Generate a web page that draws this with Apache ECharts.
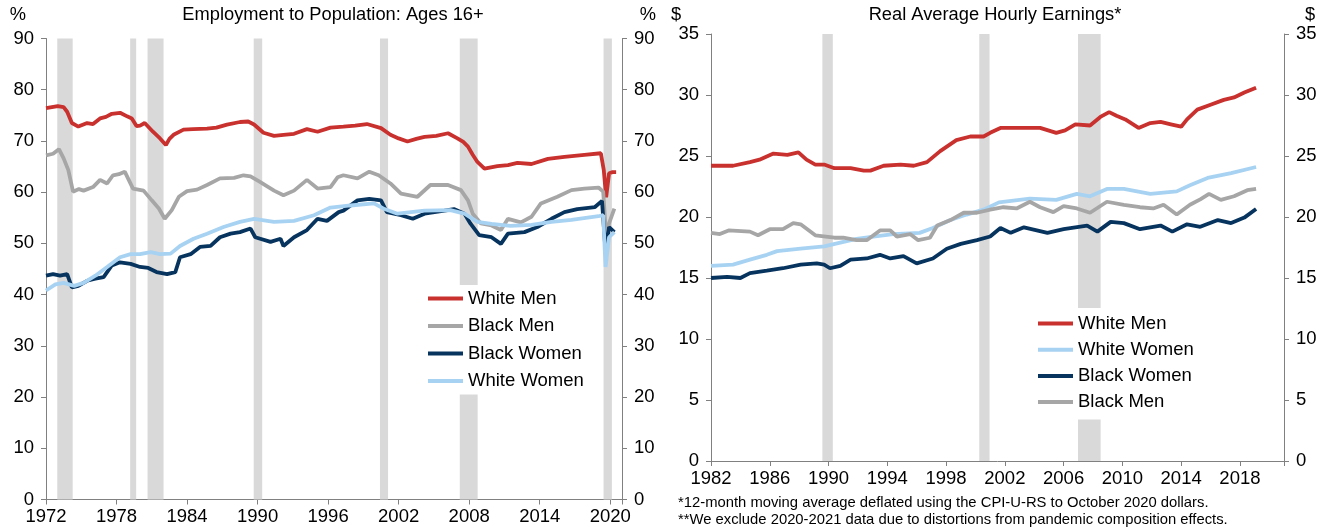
<!DOCTYPE html>
<html>
<head>
<meta charset="UTF-8">
<title>Employment and earnings</title>
<script src="https://cdn.jsdelivr.net/npm/echarts@6/dist/echarts.min.js"></script>
<style>
  html, body { margin: 0; padding: 0; background: #fff; }
  #main { width: 1329px; height: 531px; }
</style>
</head>
<body>
<div id="main"></div>
<script>
// ---- data ----
// left panel: employment to population, %, [year, value]
var empWhiteMen = [[1972.0,76.4],[1972.5,76.6],[1973.0,76.8],[1973.5,76.6],[1973.8,75.7],[1974.2,73.5],[1974.75,72.8],[1975.5,73.5],[1976.0,73.3],[1976.6,74.4],[1977.1,74.7],[1977.6,75.3],[1978.3,75.5],[1978.9,74.8],[1979.3,74.4],[1979.7,72.9],[1980.0,73.0],[1980.4,73.5],[1981.1,71.8],[1981.7,70.5],[1982.2,69.2],[1982.5,70.4],[1982.85,71.2],[1983.7,72.2],[1984.5,72.3],[1985.7,72.4],[1986.5,72.6],[1987.4,73.2],[1988.5,73.7],[1989.2,73.8],[1989.7,73.2],[1990.5,71.6],[1991.4,71.0],[1992.2,71.2],[1993.1,71.4],[1994.2,72.3],[1995.1,71.8],[1996.2,72.6],[1997.3,72.8],[1998.3,73.0],[1999.3,73.3],[2000.5,72.5],[2001.3,71.2],[2002.0,70.5],[2002.75,69.9],[2003.5,70.4],[2004.2,70.8],[2005.2,71.0],[2006.2,71.5],[2007.0,70.5],[2007.5,69.8],[2007.9,68.9],[2008.3,67.3],[2008.7,65.9],[2009.3,64.6],[2010.4,65.1],[2011.3,65.3],[2012.1,65.7],[2013.3,65.5],[2014.7,66.5],[2016.1,66.9],[2017.8,67.3],[2019.2,67.6],[2019.45,64.3],[2019.65,59.0],[2019.9,63.7],[2020.2,63.9],[2020.5,63.9]];
var empBlackMen = [[1972.0,67.2],[1972.6,67.5],[1973.1,68.4],[1973.5,66.6],[1973.9,64.3],[1974.3,60.1],[1974.8,60.6],[1975.2,60.3],[1976.0,61.0],[1976.6,62.4],[1977.2,61.7],[1977.7,63.3],[1978.2,63.5],[1978.7,64.0],[1979.4,60.7],[1980.3,60.3],[1981.0,58.4],[1981.6,56.8],[1982.1,54.8],[1982.7,56.5],[1983.3,59.1],[1984.0,60.2],[1984.85,60.5],[1985.7,61.4],[1986.8,62.7],[1988.0,62.8],[1988.8,63.3],[1989.4,63.1],[1990.2,62.0],[1991.4,60.3],[1992.2,59.4],[1993.1,60.3],[1994.2,62.4],[1995.1,60.7],[1996.2,61.0],[1996.8,62.9],[1997.3,63.3],[1998.5,62.7],[1999.5,64.0],[2000.3,63.3],[2001.3,61.7],[2002.2,59.7],[2003.6,59.1],[2004.7,61.4],[2006.2,61.4],[2007.3,60.4],[2007.9,58.4],[2008.3,55.8],[2009.0,53.9],[2009.9,53.5],[2010.7,52.6],[2011.3,54.8],[2012.4,54.1],[2013.3,55.2],[2014.1,57.8],[2015.5,59.1],[2016.7,60.4],[2017.8,60.7],[2019.0,60.9],[2019.4,60.1],[2019.65,51.5],[2019.9,53.9],[2020.35,56.8]];
var empBlackWomen = [[1972.0,43.7],[1972.6,44.0],[1973.2,43.7],[1973.8,44.0],[1974.2,41.4],[1974.75,41.7],[1975.5,42.7],[1976.2,43.1],[1976.9,43.4],[1977.6,45.7],[1978.3,46.3],[1979.2,46.0],[1980.0,45.4],[1980.7,45.2],[1981.4,44.4],[1982.3,44.0],[1983.0,44.4],[1983.4,47.3],[1984.3,47.9],[1985.1,49.3],[1986.0,49.5],[1986.8,51.2],[1987.7,51.9],[1988.5,52.2],[1989.4,52.9],[1989.8,51.2],[1991.1,50.3],[1991.95,50.9],[1992.2,49.5],[1993.1,51.2],[1994.2,52.6],[1995.1,54.8],[1995.9,54.4],[1996.9,56.1],[1997.3,56.4],[1998.5,58.4],[1999.5,58.7],[2000.5,58.4],[2001.0,56.1],[2002.2,55.5],[2003.2,54.8],[2004.2,55.8],[2005.9,56.4],[2006.7,56.7],[2007.6,55.8],[2008.1,53.9],[2008.85,51.6],[2009.9,51.2],[2010.7,49.9],[2011.3,51.9],[2012.7,52.2],[2013.8,53.2],[2015.0,54.8],[2016.1,56.1],[2017.2,56.7],[2018.7,57.1],[2019.3,58.3],[2019.6,48.5],[2019.9,53.2],[2020.35,52.2]];
var empWhiteWomen = [[1972.0,40.8],[1972.8,42.0],[1973.5,42.3],[1974.4,41.7],[1975.2,42.3],[1976.2,43.7],[1977.2,45.4],[1978.3,47.3],[1979.2,47.9],[1980.0,47.9],[1980.9,48.3],[1981.7,47.9],[1982.6,48.0],[1983.4,49.5],[1984.55,50.9],[1985.7,51.9],[1987.1,53.2],[1988.5,54.2],[1989.7,54.8],[1991.4,54.2],[1993.1,54.4],[1994.8,55.5],[1996.2,57.0],[1997.9,57.4],[1999.9,57.8],[2000.8,56.7],[2001.9,55.8],[2004.2,56.4],[2006.4,56.5],[2007.6,55.8],[2008.7,54.2],[2009.9,53.8],[2011.5,53.4],[2013.3,53.6],[2015.0,54.2],[2016.7,54.6],[2019.0,55.3],[2019.4,55.5],[2019.6,45.4],[2019.9,51.2],[2020.35,52.2]];
var empRecessions = [[1972.96,1974.27],[1979.16,1979.67],[1980.64,1982.0],[1989.67,1990.39],[2000.41,2001.1],[2007.2,2008.72],[2019.43,2020.14]];

// right panel: real average hourly earnings, $, [year, value]
var earnWhiteMen = [[1982.0,24.2],[1983.5,24.2],[1984.65,24.5],[1985.3,24.7],[1986.25,25.2],[1987.2,25.1],[1987.95,25.3],[1988.5,24.7],[1989.1,24.3],[1989.7,24.3],[1990.4,24.0],[1991.5,24.0],[1992.4,23.8],[1992.85,23.8],[1993.75,24.2],[1994.9,24.3],[1995.8,24.2],[1996.7,24.5],[1997.6,25.4],[1998.7,26.3],[1999.65,26.6],[2000.55,26.6],[2001.0,26.9],[2001.7,27.3],[2003.3,27.3],[2004.4,27.3],[2005.5,26.9],[2006.1,27.1],[2006.8,27.6],[2007.8,27.5],[2008.5,28.2],[2009.1,28.6],[2009.6,28.3],[2010.2,28.0],[2011.1,27.3],[2011.9,27.7],[2012.6,27.8],[2013.3,27.6],[2014.0,27.4],[2014.4,28.0],[2015.1,28.8],[2016.0,29.2],[2016.9,29.6],[2017.6,29.8],[2018.3,30.2],[2019.1,30.6]];
var earnWhiteWomen = [[1982.0,16.0],[1983.5,16.1],[1984.65,16.5],[1985.8,16.9],[1986.5,17.2],[1988.1,17.4],[1989.7,17.6],[1990.8,17.9],[1991.9,18.2],[1993.05,18.4],[1994.4,18.6],[1996.2,18.7],[1997.1,19.1],[1998.3,19.75],[1999.4,20.2],[2000.55,20.6],[2001.6,21.2],[2003.7,21.5],[2005.5,21.4],[2006.9,21.9],[2007.8,21.7],[2008.95,22.3],[2010.1,22.3],[2011.9,21.9],[2013.7,22.1],[2014.6,22.6],[2015.8,23.2],[2017.4,23.6],[2019.1,24.1]];
var earnBlackWomen = [[1982.0,15.0],[1983.1,15.1],[1984.0,15.0],[1984.65,15.4],[1985.8,15.6],[1986.9,15.8],[1988.1,16.1],[1989.2,16.2],[1989.7,16.1],[1990.1,15.8],[1990.8,16.0],[1991.5,16.5],[1992.6,16.6],[1993.5,16.9],[1994.2,16.6],[1995.1,16.8],[1996.0,16.2],[1997.1,16.6],[1998.05,17.4],[1999.0,17.8],[2000.1,18.1],[2001.0,18.4],[2001.7,19.1],[2002.4,18.7],[2003.3,19.15],[2004.9,18.7],[2006.0,19.0],[2007.6,19.3],[2008.3,18.8],[2009.2,19.6],[2010.1,19.5],[2011.2,19.0],[2012.6,19.3],[2013.4,18.8],[2014.4,19.4],[2015.3,19.2],[2016.5,19.75],[2017.4,19.5],[2018.3,19.95],[2019.1,20.65]];
var earnBlackMen = [[1982.0,18.7],[1982.6,18.6],[1983.2,18.9],[1984.65,18.8],[1985.2,18.5],[1986.0,19.0],[1986.9,19.0],[1987.6,19.5],[1988.1,19.4],[1989.1,18.5],[1990.4,18.3],[1991.0,18.3],[1991.9,18.1],[1992.6,18.1],[1993.5,18.9],[1994.2,18.9],[1994.65,18.4],[1995.55,18.6],[1996.1,18.1],[1996.9,18.3],[1997.4,19.3],[1998.3,19.75],[1999.2,20.35],[2000.1,20.35],[2001.0,20.6],[2001.9,20.8],[2002.8,20.7],[2003.7,21.25],[2004.4,20.8],[2005.3,20.4],[2006.0,20.9],[2006.9,20.7],[2007.8,20.35],[2008.95,21.25],[2010.1,21.0],[2011.2,20.8],[2012.1,20.7],[2012.8,21.0],[2013.7,20.2],[2014.6,21.0],[2015.3,21.45],[2015.9,21.9],[2016.7,21.4],[2017.6,21.7],[2018.5,22.2],[2019.1,22.3]];
var earnRecessions = [[1989.58,1990.29],[2000.26,2000.96],[2006.98,2008.52]];

var legendLeft = ['White Men', 'Black Men', 'Black Women', 'White Women'];
var legendRight = ['White Men', 'White Women', 'Black Women', 'Black Men'];

var colors = {
  'White Men': '#c8312e',
  'Black Men': '#a6a6a6',
  'Black Women': '#07345f',
  'White Women': '#a8d2f2'
};

var FONT = "'Liberation Sans', Arial, sans-serif";
var axisColor = '#808080';

function bands(list) {
  return list.map(function (r) { return [{ xAxis: r[0] }, { xAxis: r[1] }]; });
}

function line(name, data, xi, yi, extra) {
  var s = {
    name: name,
    type: 'line',
    xAxisIndex: xi,
    yAxisIndex: yi,
    data: data,
    showSymbol: false,
    symbol: 'none',
    silent: true,
    lineStyle: { color: colors[name], width: 3.8 },
    itemStyle: { color: colors[name] },
    animation: false
  };
  if (extra) s.markArea = extra;
  return s;
}

function recessionArea(list) {
  return {
    silent: true,
    itemStyle: { color: '#d9d9d9' },
    data: bands(list)
  };
}

function xAxisCfg(grid, min, max, step) {
  return {
    type: 'value', gridIndex: grid, min: min, max: max, interval: step,
    axisLine: { lineStyle: { color: axisColor, width: 1 } },
    axisTick: { length: 5, lineStyle: { color: axisColor } },
    splitLine: { show: false },
    axisLabel: {
      color: '#000', fontFamily: FONT, fontSize: 18.5, margin: 8,
      formatter: function (v) { return (v - min) % step === 0 ? String(v) : ''; }
    }
  };
}

function yAxisCfg(grid, pos, max, step) {
  return {
    type: 'value', gridIndex: grid, position: pos, min: 0, max: max, interval: step,
    axisLine: { show: true, lineStyle: { color: axisColor, width: 1 } },
    axisTick: { show: true, length: 5, lineStyle: { color: axisColor } },
    splitLine: { show: false },
    axisLabel: { color: '#000', fontFamily: FONT, fontSize: 18.5, margin: 12 }
  };
}

function txt(s, x, y, align, size) {
  return {
    type: 'text', x: x, y: y, silent: true,
    style: { text: s, fill: '#000', font: size + 'px ' + FONT, textAlign: align, textVerticalAlign: 'middle' }
  };
}

var chart = echarts.init(document.getElementById('main'));

chart.setOption({
  animation: false,
  backgroundColor: '#fff',
  grid: [
    { left: 46, right: 707, top: 38.5, bottom: 31.5 },
    { left: 711, right: 45, top: 34, bottom: 70 }
  ],
  xAxis: [
    xAxisCfg(0, 1972, 2021, 6),
    xAxisCfg(1, 1982, 2021, 4)
  ],
  yAxis: [
    yAxisCfg(0, 'left', 90, 10),
    yAxisCfg(0, 'right', 90, 10),
    yAxisCfg(1, 'left', 35, 5),
    yAxisCfg(1, 'right', 35, 5)
  ],
  legend: [
    {
      data: legendLeft, orient: 'vertical', left: 418, top: 285,
      backgroundColor: '#fff', padding: [4, 12, 4, 10], itemGap: 8.5,
      icon: 'rect', itemWidth: 35, itemHeight: 4,
      textStyle: { fontFamily: FONT, fontSize: 18.5, color: '#000' },
      selectedMode: false
    },
    {
      data: legendRight, orient: 'vertical', left: 1028, top: 308,
      backgroundColor: '#fff', padding: [6, 12, 8, 10], itemGap: 7.2,
      icon: 'rect', itemWidth: 35, itemHeight: 4,
      textStyle: { fontFamily: FONT, fontSize: 18.5, color: '#000' },
      selectedMode: false
    }
  ],
  graphic: [
    txt('Employment to Population: Ages 16+', 333, 15, 'center', 18.3),
    txt('%', 18, 15, 'center', 18.3),
    txt('%', 648, 15, 'center', 18.3),
    txt('Real Average Hourly Earnings*', 995, 15, 'center', 18.3),
    txt('$', 676, 15, 'center', 18.3),
    txt('$', 1310, 15, 'center', 18.3),
    txt('*12-month moving average deflated using the CPI-U-RS to October 2020 dollars.', 678, 503, 'left', 14.8),
    txt('**We exclude 2020-2021 data due to distortions from pandemic composition effects.', 678, 520, 'left', 14.8)
  ],
  series: [
    line('White Men', empWhiteMen, 0, 0, recessionArea(empRecessions)),
    line('Black Men', empBlackMen, 0, 0),
    line('Black Women', empBlackWomen, 0, 0),
    line('White Women', empWhiteWomen, 0, 0),
    line('White Men', earnWhiteMen, 1, 2, recessionArea(earnRecessions)),
    line('White Women', earnWhiteWomen, 1, 2),
    line('Black Women', earnBlackWomen, 1, 2),
    line('Black Men', earnBlackMen, 1, 2)
  ]
});
</script>
</body>
</html>
